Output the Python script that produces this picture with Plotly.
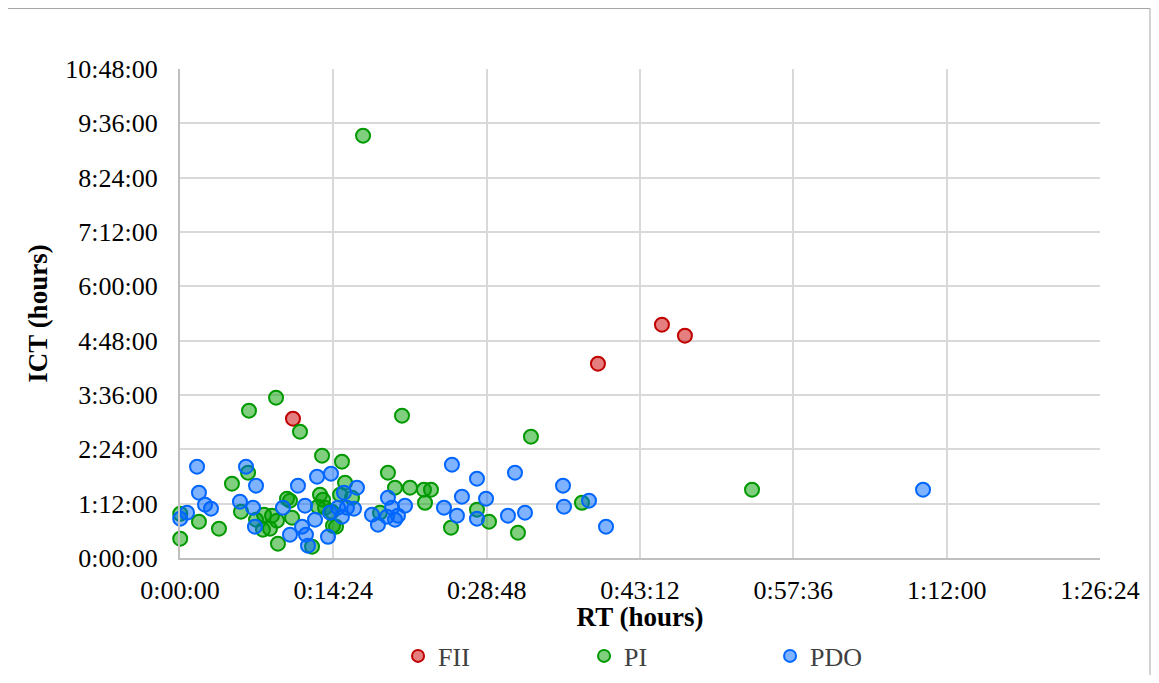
import plotly.graph_objects as go

# RT in minutes, ICT in hours
fii_rt = [10.61, 39.25, 45.26, 47.42]
fii_ict = [3.077, 4.291, 5.153, 4.910]

pi_rt = [17.19, 9.02, 6.48, 20.85, 11.27, 32.96, 53.72, 13.34, 15.21, 6.39,
         4.88, 5.73, 0.02, 1.78, 3.66, 0.02, 7.89, 8.64, 7.14, 7.79,
         8.45, 9.11, 9.20, 10.05, 15.50, 19.53, 20.19, 13.15, 13.43, 12.96,
         10.33, 10.52, 12.40, 14.65, 14.27, 16.15, 18.78, 21.60, 22.91, 23.57,
         23.01, 27.89, 29.02, 25.45, 37.75, 31.74, 15.03, 14.37, 13.62]
pi_ict = [9.327, 3.541, 3.253, 3.143, 2.790, 2.679, 1.509, 2.260, 2.127, 1.884,
          1.641, 1.023, 0.978, 0.802, 0.647, 0.426, 0.956, 0.934, 0.846, 0.625,
          0.647, 0.824, 0.316, 1.310, 1.663, 1.884, 1.553, 1.398, 1.288, 1.133,
          1.266, 0.890, 0.250, 0.691, 1.023, 1.332, 1.001, 1.553, 1.509, 1.509,
          1.221, 1.067, 0.802, 0.669, 1.221, 0.559, 1.398, 0.713, 1.111]

pdo_rt = [69.78, 40.01, 1.60, 6.20, 7.14, 1.78, 2.35, 2.91, 5.63, 6.86,
          0.66, 0.02, 7.04, 9.67, 10.33, 12.87, 14.18, 11.08, 16.62, 15.40,
          19.53, 11.74, 12.68, 11.46, 11.83, 12.02, 13.90, 14.84, 15.68, 16.34,
          15.21, 18.03, 18.59, 19.44, 19.91, 20.19, 25.54, 27.89, 21.13, 20.47,
          26.48, 28.74, 24.79, 26.01, 27.89, 30.80, 31.46, 35.97, 36.06, 38.41,
          32.40, 14.09]
pdo_ict = [1.509, 0.691, 2.017, 2.017, 1.597, 1.442, 1.177, 1.089, 1.244, 1.111,
           1.001, 0.868, 0.691, 1.111, 0.515, 1.796, 1.862, 1.597, 1.553, 1.442,
           1.332, 1.155, 0.846, 0.691, 0.515, 0.272, 0.470, 1.111, 1.111, 1.089,
           0.912, 0.956, 0.736, 0.912, 1.111, 0.846, 2.061, 1.752, 1.155, 0.934,
           1.354, 1.310, 1.111, 0.934, 0.868, 0.934, 1.884, 1.597, 1.133, 1.266,
           1.001, 1.001]

x_tickvals = [0, 14.4, 28.8, 43.2, 57.6, 72.0, 86.4]
x_ticktext = ["0:00:00", "0:14:24", "0:28:48", "0:43:12", "0:57:36", "1:12:00", "1:26:24"]
y_tickvals = [0, 1.2, 2.4, 3.6, 4.8, 6.0, 7.2, 8.4, 9.6, 10.8]
y_ticktext = ["0:00:00", "1:12:00", "2:24:00", "3:36:00", "4:48:00", "6:00:00",
              "7:12:00", "8:24:00", "9:36:00", "10:48:00"]

series = [
    ("FII", fii_rt, fii_ict, "rgba(204,0,0,0.5)", "#c00000"),
    ("PI", pi_rt, pi_ict, "rgba(0,160,0,0.5)", "#009900"),
    ("PDO", pdo_rt, pdo_ict, "rgba(0,102,255,0.5)", "#0066ff"),
]

fig = go.Figure()
for name, xs, ys, fill, line in series:
    fig.add_trace(go.Scatter(
        x=xs, y=ys, mode="markers", name=name, cliponaxis=False,
        marker=dict(size=14, color=fill, line=dict(color=line, width=2)),
    ))

font_family = "Liberation Serif, Times New Roman, serif"

W, H = 1143, 667
L, T, PW, PH = 172, 61, 920, 489
def px(xf):
    return (xf - L) / PW
def py(yf):
    return (T + PH - yf) / PH

border = dict(color="#a6a6a6", width=1)

fig.update_layout(
    width=W, height=H,
    margin=dict(l=L, r=W - L - PW, t=T, b=H - T - PH, autoexpand=False),
    paper_bgcolor="white", plot_bgcolor="white",
    font=dict(family=font_family, size=26, color="black"),
    showlegend=True,
    legend=dict(orientation="h", x=0.237, xanchor="left",
                yref="container", y=(H - 648) / H, yanchor="middle",
                font=dict(size=26, color="#404040"), itemsizing="constant",
                entrywidth=141, traceorder="normal"),
    xaxis=dict(range=[0, 86.4], tickvals=x_tickvals, ticktext=x_ticktext,
               showgrid=True, gridcolor="#d9d9d9", gridwidth=2,
               showline=True, linecolor="#bfbfbf", linewidth=2,
               zeroline=False, ticks="", ticklabelstandoff=8, automargin=False,
               tickfont=dict(size=26),
               title=dict(text="<b>RT (hours)</b>", font=dict(size=27), standoff=18)),
    yaxis=dict(range=[0, 10.8], tickvals=y_tickvals, ticktext=y_ticktext,
               showgrid=True, gridcolor="#d9d9d9", gridwidth=2,
               showline=True, linecolor="#bfbfbf", linewidth=2,
               zeroline=False, ticks="", ticklabelstandoff=15, automargin=False,
               tickfont=dict(size=26),
               title=dict(text="<b>ICT (hours)</b>", font=dict(size=27), standoff=10)),
    shapes=[
        dict(type="line", xref="paper", yref="paper", x0=px(0), x1=px(W - 1),
             y0=py(0.5), y1=py(0.5), line=border, layer="above"),
        dict(type="line", xref="paper", yref="paper", x0=px(W - 1), x1=px(W - 1),
             y0=py(0.5), y1=py(H), line=border, layer="above"),
    ],
)

fig.write_html("out.html")
